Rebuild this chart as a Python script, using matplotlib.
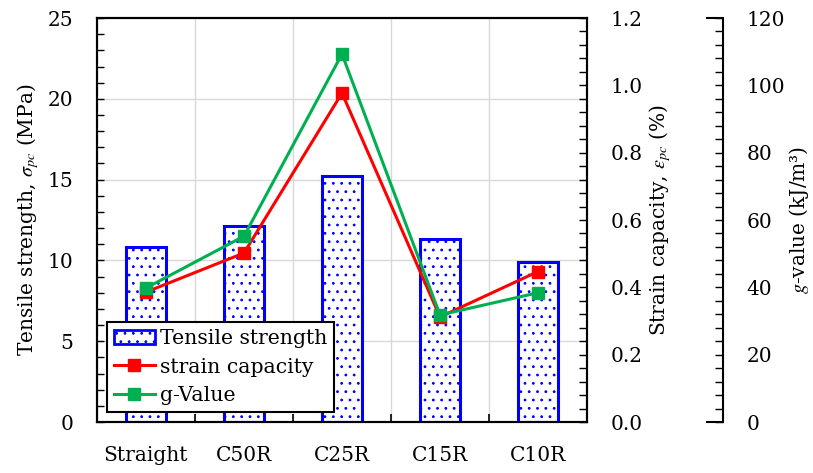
import numpy as np
import matplotlib
matplotlib.use('Agg')
from matplotlib import pyplot as plt
from matplotlib.ticker import MultipleLocator, FormatStrFormatter
from matplotlib.lines import Line2D
from matplotlib.patches import Patch

plt.rcParams['font.family'] = ['DejaVu Serif']
plt.rcParams['mathtext.fontset'] = 'stix'
plt.rcParams['hatch.linewidth'] = 0.8

# data per fibre shape
shapes = ['Straight', 'C50R', 'C25R', 'C15R', 'C10R']
tensile = [10.8, 12.15, 15.2, 11.3, 9.9]          # MPa
strain = [0.386, 0.502, 0.977, 0.312, 0.447]      # %
g_value = [39.8, 55.2, 109.3, 31.8, 38.4]          # kJ/m3

blue = '#0000ff'
red = '#ff0000'
green = '#00b050'
fs = 14.5

fig = plt.figure(figsize=(8.13, 4.73), dpi=100)
ax = fig.add_axes([0.1193, 0.1078, 0.6027, 0.8541])
x = np.arange(len(shapes))

ax.bar(x, tensile, width=0.41, color='white', edgecolor=blue, linewidth=2.2,
       hatch='..', zorder=2)
ax.set_xlim(-0.5, 4.5)
ax.set_ylim(0, 25)
ax.set_xticks(x)
ax.set_xticklabels(shapes)
ax.xaxis.set_minor_locator(MultipleLocator(1, offset=0.5))
ax.yaxis.set_major_locator(MultipleLocator(5))
ax.yaxis.set_minor_locator(MultipleLocator(1))
ax.tick_params(axis='both', which='both', direction='in', labelsize=fs)
ax.tick_params(axis='x', which='both', length=6, width=1.2, pad=17, top=False)
ax.tick_params(axis='y', which='both', length=5, width=1, pad=17, right=False)
ax.grid(axis='y', which='major', color='#d9d9d9', linewidth=1, zorder=0)
ax.grid(axis='x', which='minor', color='#d9d9d9', linewidth=1, zorder=0)
ax.set_axisbelow(True)
for s in ax.spines.values():
    s.set_linewidth(1.5)
ax.set_ylabel(r'Tensile strength, $\sigma_{pc}$ (MPa)', fontsize=fs, labelpad=5)

# strain capacity on the right spine
ax2 = ax.twinx()
ax2.plot(x, strain, color=red, linewidth=2.2, marker='s', markersize=8, zorder=3)
ax2.set_ylim(0, 1.2)
ax2.yaxis.set_major_locator(MultipleLocator(0.2))
ax2.yaxis.set_minor_locator(MultipleLocator(0.04))
ax2.yaxis.set_major_formatter(FormatStrFormatter('%.1f'))
ax2.tick_params(axis='y', which='both', direction='in', length=6, width=1,
                labelsize=fs, pad=17)
for s in ax2.spines.values():
    s.set_linewidth(1.5)
ax2.set_ylabel(r'Strain capacity, $\varepsilon_{pc}$ (%)', fontsize=fs, labelpad=3)

# g-value on a detached third axis
pos3 = 1.2776
ax3 = ax.twinx()
ax3.spines['right'].set_position(('axes', pos3))
for side in ['top', 'left', 'bottom']:
    ax3.spines[side].set_visible(False)
ax3.spines['right'].set_linewidth(1.5)
ax3.plot(x, g_value, color=green, linewidth=2.2, marker='s', markersize=8, zorder=3)
ax3.set_ylim(0, 120)
ax3.yaxis.set_major_locator(MultipleLocator(20))
ax3.yaxis.set_minor_locator(MultipleLocator(4))
ax3.tick_params(axis='y', which='both', direction='in', length=6, width=1,
                labelsize=fs, pad=17)
ax3.set_ylabel(r'$g$-value (kJ/m³)', fontsize=fs, labelpad=1)
# end caps of the third spine
for yv in (0, 1):
    ax3.plot([pos3 - 0.035, pos3], [yv, yv], transform=ax3.transAxes,
             color='black', linewidth=1.5, clip_on=False, solid_capstyle='butt')

handles = [Patch(facecolor='white', edgecolor=blue, linewidth=2, hatch='..'),
           Line2D([], [], color=red, linewidth=2.2, marker='s', markersize=8),
           Line2D([], [], color=green, linewidth=2.2, marker='s', markersize=8)]
leg = ax3.legend(handles, ['Tensile strength', 'strain capacity', 'g-Value'],
                 loc='lower left', bbox_to_anchor=(0.02, 0.025), borderaxespad=0,
                 fontsize=14.7, fancybox=False, framealpha=1, edgecolor='black',
                 handlelength=2.0, handletextpad=0.25, borderpad=0.35,
                 labelspacing=0.45)
leg.get_frame().set_linewidth(1.5)

fig.savefig('out.png', dpi=100)
